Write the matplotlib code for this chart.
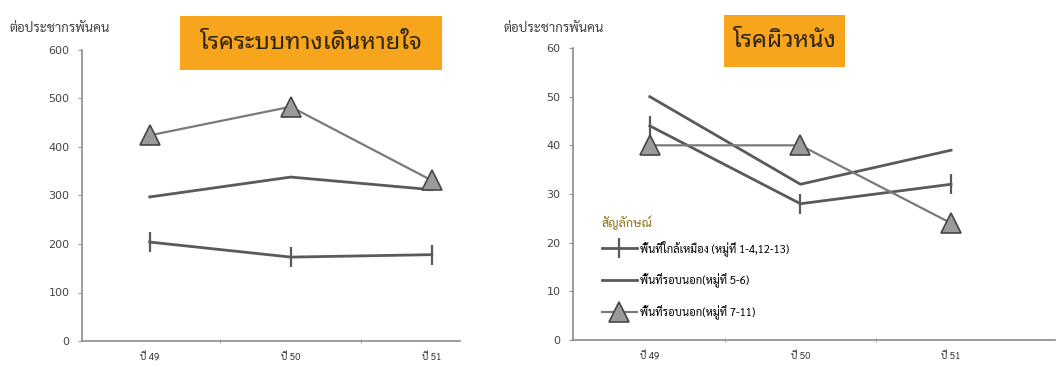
import matplotlib
matplotlib.use("Agg")
import matplotlib.pyplot as plt
from matplotlib.patches import Rectangle

# อัตราป่วยต่อประชากรพันคน ปี 49-51
years = ["ปี 49", "ปี 50", "ปี 51"]
series_names = [
    "พื้นที่ใกล้เหมือง (หมู่ที่ 1-4,12-13)",
    "พื้นที่รอบนอก(หมู่ที่ 5-6)",
    "พื้นที่รอบนอก(หมู่ที่ 7-11)",
]

resp_near_mine = [204, 173, 178]
resp_outer_5_6 = [297, 338, 312]
resp_outer_7_11 = [424, 483, 331]

skin_near_mine = [44, 28, 32]
skin_outer_5_6 = [50, 32, 39]
skin_outer_7_11 = [40, 40, 24]

THAI = ["Sarabun", "DejaVu Sans"]
TITLE_FONT = ["Noto Sans Thai Looped", "Noto Sans Thai", "DejaVu Sans"]
LINE_C = "#5a5a5a"
ORANGE = "#f7a51c"

W, H = 1060, 367


def fx(px):
    return px / W


def fy(py):
    return 1 - py / H


def draw_panel(ax, values, ymax, ystep, xlim):
    x = range(len(years))
    near, outer56, outer711 = values
    ax.plot(x, near, color=LINE_C, lw=2, marker="|", ms=15, mew=1.6,
            label=series_names[0])
    ax.plot(x, outer56, color=LINE_C, lw=2, label=series_names[1])
    ax.plot(x, outer711, color="#7a7a7a", lw=1.6, marker="^", ms=14,
            mfc="#9a9a9a", mec="#474747", mew=1.2, label=series_names[2])

    ax.set_ylim(0, ymax)
    ax.set_yticks(range(0, ymax + 1, ystep))
    ax.set_xlim(*xlim)
    ax.set_xticks(list(x))
    ax.set_xticklabels(years, fontfamily=THAI, fontsize=7, color="#333333")
    ax.set_xticks([0.5, 1.5], minor=True)
    ax.tick_params(axis="x", which="major", length=0, pad=8)
    ax.tick_params(axis="x", which="minor", length=3, direction="inout",
                   color="#999999")
    ax.tick_params(axis="y", length=3, color="#999999", labelsize=8,
                   labelcolor="#444444", pad=6)
    for side in ("top", "right"):
        ax.spines[side].set_visible(False)
    for side in ("left", "bottom"):
        ax.spines[side].set_color("#8c8c8c")
        ax.spines[side].set_linewidth(1.2)


fig = plt.figure(figsize=(W / 100, H / 100), dpi=100)

ax1 = fig.add_axes([fx(82), fy(341), fx(460 - 82), (341 - 50) / H])
draw_panel(ax1, (resp_near_mine, resp_outer_5_6, resp_outer_7_11),
           600, 100, (-0.48, 2.2))

ax2 = fig.add_axes([fx(573), fy(340), fx(1055 - 573), (340 - 48) / H])
draw_panel(ax2, (skin_near_mine, skin_outer_5_6, skin_outer_7_11),
           60, 10, (-0.51, 2.69))

# หน่วยแกน y
for x0 in (10, 503):
    fig.text(fx(x0), fy(29), "ต่อประชากรพันคน", fontfamily=THAI,
             fontsize=9.5, color="#444444", va="center", ha="left")

# กล่องชื่อโรค
for (x0, y0, x1, y1), label in [((180, 16, 442, 70), "โรคระบบทางเดินหายใจ"),
                                ((724, 15, 845, 67), "โรคผิวหนัง")]:
    fig.add_artist(Rectangle((fx(x0), fy(y1)), fx(x1 - x0), (y1 - y0) / H,
                             transform=fig.transFigure, facecolor=ORANGE,
                             edgecolor="none"))
    fig.text(fx((x0 + x1) / 2), fy((y0 + y1) / 2), label,
             fontfamily=TITLE_FONT, fontsize=17, color="#2e2414",
             ha="center", va="center")

leg = ax2.legend(title="สัญลักษณ์", loc="upper left",
                 bbox_to_anchor=(fx(596), fy(210)),
                 bbox_transform=fig.transFigure, frameon=False,
                 prop={"family": THAI, "size": 8}, handlelength=3.2,
                 handletextpad=0.3, labelspacing=1.55, borderpad=0)
leg.get_title().set_fontfamily(THAI)
leg.get_title().set_fontsize(9)
leg.get_title().set_color("#8a7420")
leg._legend_box.align = "left"
leg._legend_box.sep = 7

fig.savefig("out.png", dpi=100)
